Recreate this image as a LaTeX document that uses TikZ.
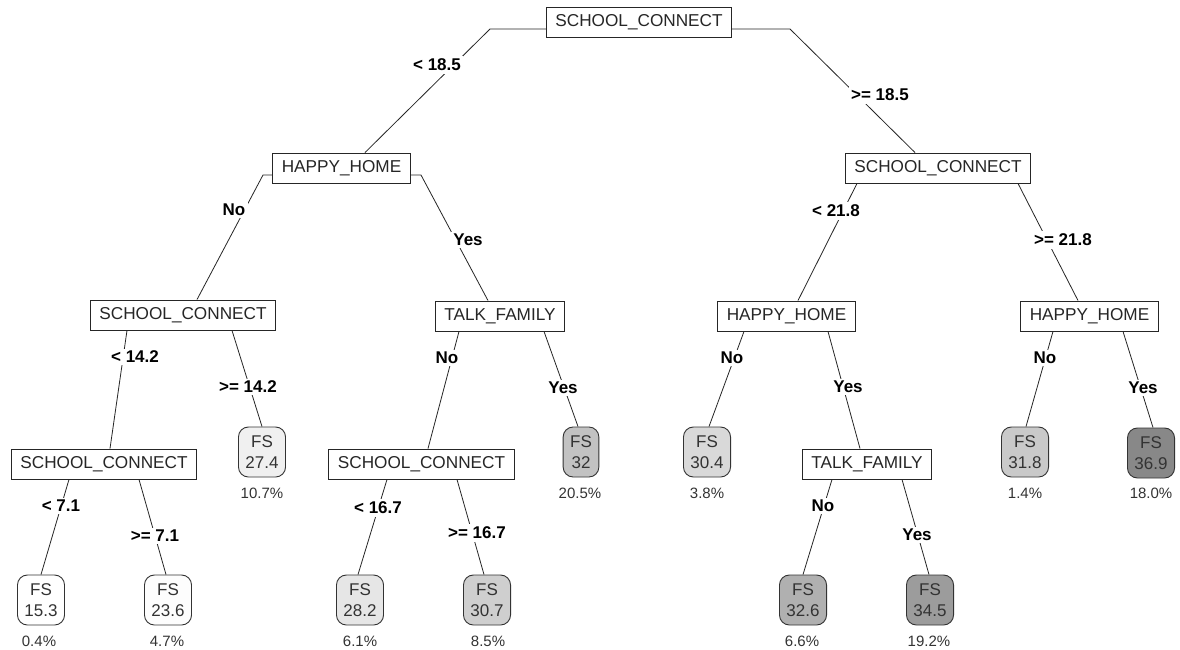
\documentclass[tikz,border=0pt]{standalone}
\usepackage{fontspec}
\setmainfont{Liberation Sans}
\begin{document}
\begin{tikzpicture}[x=1pt,y=-1pt,
 dbox/.style={draw=black!85, line width=0.9pt, fill=white, inner xsep=9pt, inner ysep=0pt, minimum height=30pt, font=\fontsize{17.2}{20}\selectfont, text=black!85},
 leaf/.style={draw=black!80, line width=0.9pt, rounded corners=10pt, align=center, inner xsep=7pt, inner ysep=0pt, minimum height=50pt, font=\fontsize{17}{21.5}\selectfont, text=black!80},
 elab/.style={fill=white, inner sep=2.5pt, font=\bfseries\fontsize{17}{20}\selectfont},
 pct/.style={font=\fontsize{15}{17}\selectfont, text=black!80},
 br/.style={draw=black!85, line width=0.8pt}]
\useasboundingbox[fill=white] (0,0) rectangle (1180,650);
\definecolor{g1}{HTML}{FFFFFF}
\definecolor{g2}{HTML}{FDFDFD}
\definecolor{g3}{HTML}{F0F0F0}
\definecolor{g4}{HTML}{E6E6E6}
\definecolor{g5}{HTML}{D9D9D9}
\definecolor{g6}{HTML}{CFCFCF}
\definecolor{g7}{HTML}{C9C9C9}
\definecolor{g8}{HTML}{C2C2C2}
\definecolor{g9}{HTML}{B0B0B0}
\definecolor{g10}{HTML}{9C9C9C}
\definecolor{g11}{HTML}{888888}
% decision nodes
\node[dbox] (root) at (639,22) {SCHOOL\_CONNECT};
\node[dbox] (hh2) at (341.5,168) {HAPPY\_HOME};
\node[dbox] (scr2) at (938,168) {SCHOOL\_CONNECT};
\node[dbox] (scl3) at (183,315) {SCHOOL\_CONNECT};
\node[dbox] (tf3) at (500,316) {TALK\_FAMILY};
\node[dbox] (hh3l) at (786.5,316) {HAPPY\_HOME};
\node[dbox] (hh3r) at (1089.5,316) {HAPPY\_HOME};
\node[dbox] (scl4) at (104,464) {SCHOOL\_CONNECT};
\node[dbox] (scm4) at (421.5,464) {SCHOOL\_CONNECT};
\node[dbox] (tfr4) at (867,464) {TALK\_FAMILY};
% leaves
\node[leaf, fill=g3] (l274) at (262,452) {FS\\27.4};
\node[leaf, fill=g8] (l32) at (581,452) {FS\\32};
\node[leaf, fill=g5] (l304) at (707,452) {FS\\30.4};
\node[leaf, fill=g7] (l318) at (1025,452) {FS\\31.8};
\node[leaf, fill=g11] (l369) at (1151,453) {FS\\36.9};
\node[leaf, fill=g1] (l153) at (41,600) {FS\\15.3};
\node[leaf, fill=g2] (l236) at (168,600) {FS\\23.6};
\node[leaf, fill=g4] (l282) at (360,600) {FS\\28.2};
\node[leaf, fill=g6] (l307) at (487,600) {FS\\30.7};
\node[leaf, fill=g9] (l326) at (803,600) {FS\\32.6};
\node[leaf, fill=g10] (l345) at (930,600) {FS\\34.5};
% percentages
\node[pct] (p274) at (262,493) {10.7\%};
\node[pct] (p32) at (580,493) {20.5\%};
\node[pct] (p304) at (707,493) {3.8\%};
\node[pct] (p318) at (1025,493) {1.4\%};
\node[pct] (p369) at (1151,493) {18.0\%};
\node[pct] (p153) at (39,641) {0.4\%};
\node[pct] (p236) at (167,641) {4.7\%};
\node[pct] (p282) at (360,641) {6.1\%};
\node[pct] (p307) at (488,641) {8.5\%};
\node[pct] (p326) at (802,641) {6.6\%};
\node[pct] (p345) at (929,641) {19.2\%};
% shoulder coordinates
\coordinate (c1) at (490,29);
\coordinate (c2) at (790,29);
\coordinate (c3) at (263,175);
\coordinate (c4) at (421,175);
% branches
\draw[br] (root.west |- c1) -- (c1) -- ([xshift=23.5pt]hh2.north);
\draw[br] (root.east |- c2) -- (c2) -- ([xshift=-23pt]scr2.north);
\draw[br] (hh2.west |- c3) -- (c3) -- ([xshift=14pt]scl3.north);
\draw[br] (hh2.east |- c4) -- (c4) -- ([xshift=-12pt]tf3.north);
\draw[br] ([xshift=-81pt]scr2.south) -- ([xshift=11.5pt]hh3l.north);
\draw[br] ([xshift=80pt]scr2.south) -- ([xshift=-11.5pt]hh3r.north);
\draw[br] ([xshift=-56pt]scl3.south) -- ([xshift=6pt]scl4.north);
\draw[br] ([xshift=49pt]scl3.south) -- (l274.north);
\draw[br] ([xshift=-41pt]tf3.south) -- ([xshift=6.5pt]scm4.north);
\draw[br] ([xshift=44pt]tf3.south) -- ([xshift=-3pt]l32.north);
\draw[br] ([xshift=-42.5pt]hh3l.south) -- ([xshift=2pt]l304.north);
\draw[br] ([xshift=41.5pt]hh3l.south) -- ([xshift=-7pt]tfr4.north);
\draw[br] ([xshift=-36.5pt]hh3r.south) -- ([xshift=1pt]l318.north);
\draw[br] ([xshift=33.5pt]hh3r.south) -- ([xshift=2pt]l369.north);
\draw[br] ([xshift=-35pt]scl4.south) -- (l153.north);
\draw[br] ([xshift=35pt]scl4.south) -- ([xshift=-2pt]l236.north);
\draw[br] ([xshift=-34.5pt]scm4.south) -- ([xshift=-2pt]l282.north);
\draw[br] ([xshift=35.5pt]scm4.south) -- ([xshift=-3pt]l307.north);
\draw[br] ([xshift=-35pt]tfr4.south) -- (l326.north);
\draw[br] ([xshift=35pt]tfr4.south) -- ([xshift=-1pt]l345.north);
% edge labels
\node[elab] (e1) at (437,65) {< 18.5};
\node[elab] (e2) at (880,95) {>= 18.5};
\node[elab] (e3) at (234,210) {No};
\node[elab] (e4) at (468,240) {Yes};
\node[elab] (e5) at (836,211) {< 21.8};
\node[elab] (e6) at (1063,240) {>= 21.8};
\node[elab] (e7) at (135,357) {< 14.2};
\node[elab] (e8) at (248,387) {>= 14.2};
\node[elab] (e9) at (447,358) {No};
\node[elab] (e10) at (563,388) {Yes};
\node[elab] (e11) at (732,358) {No};
\node[elab] (e12) at (848,387) {Yes};
\node[elab] (e13) at (1045,358) {No};
\node[elab] (e14) at (1143,388) {Yes};
\node[elab] (e15) at (61,506) {< 7.1};
\node[elab] (e16) at (155,536) {>= 7.1};
\node[elab] (e17) at (378,508) {< 16.7};
\node[elab] (e18) at (477,533) {>= 16.7};
\node[elab] (e19) at (823,506) {No};
\node[elab] (e20) at (917,535) {Yes};
\end{tikzpicture}
\end{document}
